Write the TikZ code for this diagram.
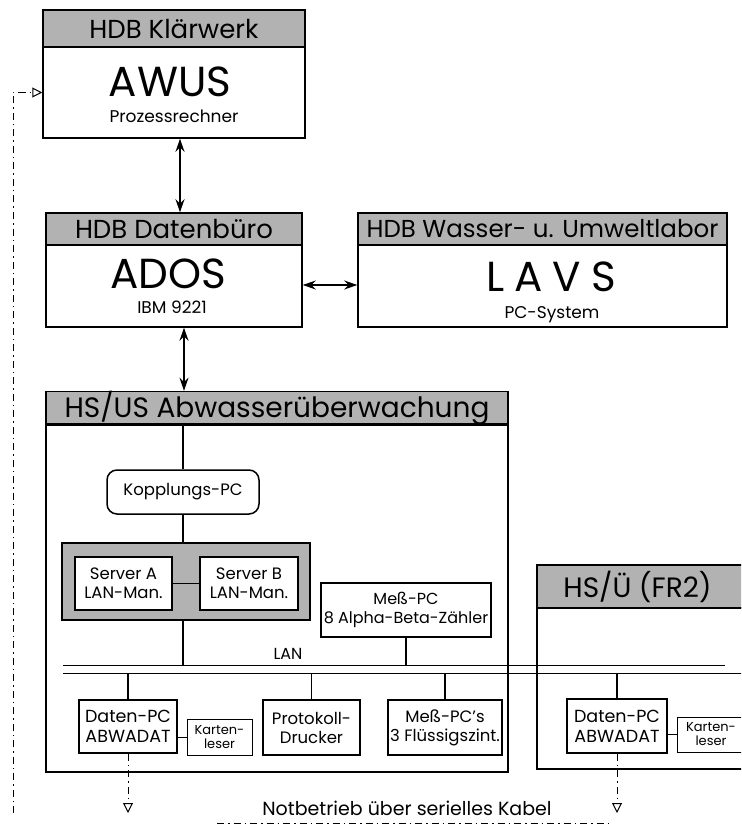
\documentclass[tikz,border=0pt]{standalone}
\usepackage{fontspec}
\setmainfont{Poppins}
\usepackage{tikz}
\usetikzlibrary{arrows.meta}
\usetikzlibrary{positioning}

\begin{document}
\begin{tikzpicture}[x=1pt, y=-1pt,
		kopf/.style = {rectangle, draw, line width=1.5pt, fill=black!30, inner sep=0pt, font=\fontsize{26}{26}\selectfont},
		rumpf/.style = {rectangle, draw, line width=1.5pt, inner sep=0pt},
		gross/.style = {inner sep=0pt, font=\fontsize{42}{42}\selectfont},
		klein/.style = {inner sep=0pt, font=\fontsize{17}{17}\selectfont},
		geraet/.style = {rectangle, draw, line width=1.5pt, fill=white, align=center, inner sep=0pt, font=\fontsize{16.5}{19}\selectfont},
		leser/.style = {rectangle, draw, line width=0.8pt, align=center, inner sep=0pt, font=\fontsize{13}{14}\selectfont},
		pfeil/.style = {{Stealth[length=13pt,width=9pt]}-{Stealth[length=13pt,width=9pt]}, line width=1.2pt},
		netz/.style = {line width=1pt},
		notlinie/.style = {line width=1pt, dash pattern=on 7pt off 4pt on 1.5pt off 4pt},
		spitze/.style = {-{Triangle[open, length=10pt, width=10pt, line width=1pt]}}
		]
		\useasboundingbox (0,0) rectangle (741,826);
		\clip (0,0) rectangle (741,826);
		
		%Nodes
		\node[kopf, minimum width=262, minimum height=37]	(awush)	at	(174, 28.5)		{HDB Klärwerk};
		\node[rumpf, minimum width=262, minimum height=91]	(awusb)	at	(174, 92.5)		{};
		\node[gross]	(awust)	at	(170, 82)		{AWUS};
		\node[klein]	(awuss)	at	(174, 116)		{Prozessrechner};
		
		\node[kopf, minimum width=256, minimum height=32]	(adosh)	at	(174, 229)		{HDB Datenbüro};
		\node[rumpf, minimum width=256, minimum height=82]	(adosb)	at	(174, 286)		{};
		\node[gross]	(adost)	at	(168, 274)		{ADOS};
		\node[klein]	(adoss)	at	(172, 307)		{IBM 9221};
		
		\node[kopf, minimum width=369, minimum height=32, font=\fontsize{24.5}{24.5}\selectfont]	(lavsh)	at	(542.5, 229)	{HDB Wasser- u. Umweltlabor};
		\node[rumpf, minimum width=369, minimum height=82]	(lavsb)	at	(542.5, 286)	{};
		\node[gross]	(lavst)	at	(551, 277)		{L\hspace{10pt}A\hspace{10pt}V\hspace{10pt}S};
		\node[klein]	(lavss)	at	(552, 315)		{PC-System};
		
		\node[kopf, minimum width=462, minimum height=31, font=\fontsize{28}{28}\selectfont]	(hsush)	at	(277, 408.5)	{HS/US Abwasserüberwachung};
		\node[rumpf, minimum width=462, minimum height=348]	(hsusb)	at	(277, 598)		{};
		
		\node[kopf, minimum width=223, minimum height=43, font=\fontsize{28}{28}\selectfont]	(frh)	at	(648.5, 586.5)	{\hspace{-22pt}HS/Ü (FR2)};
		\node[rumpf, minimum width=223, minimum height=161]	(frb)	at	(648.5, 688.5)	{};
		
		\node[geraet, rounded corners=10pt, minimum width=152, minimum height=44]	(kop)	at	(183, 492)	{Kopplungs-PC};
		\node[rumpf, fill=black!30, minimum width=248, minimum height=77]	(srv)	at	(186, 581.5)	{};
		\node[geraet, minimum width=97, minimum height=53]	(srva)	at	(123.5, 583.5)	{Server A\\LAN-Man.};
		\node[geraet, minimum width=98, minimum height=53]	(srvb)	at	(249, 583.5)	{Server B\\LAN-Man.};
		\node[geraet, minimum width=170, minimum height=54, font=\fontsize{16}{19}\selectfont]	(mess)	at	(406, 610)	{Meß-PC\\8 Alpha-Beta-Zähler};
		\node[font=\fontsize{16}{16}\selectfont, inner sep=0pt]	(lan)	at	(288, 654)	{LAN};
		
		\node[geraet, minimum width=98, minimum height=53, font=\fontsize{17.5}{20}\selectfont]	(dpc)	at	(128, 726.5)	{Daten-PC\\ABWADAT};
		\node[leser, minimum width=65, minimum height=36]	(kl)	at	(219.5, 737)	{Karten-\\leser};
		\node[geraet, minimum width=97, minimum height=55]	(druck)	at	(311.5, 727.5)	{Protokoll-\\Drucker};
		\node[geraet, minimum width=114, minimum height=55]	(fz)	at	(445, 727.5)	{Meß-PC's\\3 Flüssigszint.};
		
		\node[geraet, minimum width=100, minimum height=54, font=\fontsize{17.5}{20}\selectfont]	(dpcfr)	at	(617, 726)	{Daten-PC\\ABWADAT};
		\node[leser, minimum width=68, minimum height=35]	(klfr)	at	(711, 734.5)	{Karten-\\leser};
		
		\node[font=\fontsize{19}{19}\selectfont, inner sep=0pt]	(notb)	at	(407, 808)	{Notbetrieb über serielles Kabel};
		
		\coordinate	(lan1a)	at	(63, 665);
		\coordinate	(lan1b)	at	(725, 665);
		\coordinate	(lan2a)	at	(63, 673);
		\coordinate	(lan2b)	at	(745, 673);
		\coordinate	(nl)	at	(13, 813);
		\coordinate	(nka)	at	(217, 823);
		\coordinate	(nkb)	at	(612, 823);
		
		%Lines
		\draw[pfeil]	([xshift=6pt]awusb.south)	--	([xshift=6pt]adosh.north);
		\draw[pfeil]	([xshift=10pt]adosb.south)	--	([xshift=10pt]adosb.south |- hsush.north);
		\draw[pfeil]	(adosb.east |- 0,285)	--	(lavsb.west |- 0,285);
		
		\draw[netz]	(lan1a)	--	(lan1b);
		\draw[netz]	(lan2a)	--	(lan2b);
		\draw[line width=1.2pt]	(hsush.south -| kop.north)	--	(kop.north);
		\draw[line width=1.2pt]	(kop.south)	--	(kop.south |- srv.north);
		\draw[line width=1.2pt]	(srva.east)	--	(srvb.west);
		\draw[line width=1.2pt]	(kop.south |- srv.south)	--	(kop.south |- lan1a);
		\draw[line width=1.2pt]	(mess.south)	--	(mess.south |- lan1a);
		\draw[line width=1.2pt]	(dpc.north |- lan2a)	--	(dpc.north);
		\draw[line width=1.2pt]	(druck.north |- lan2a)	--	(druck.north);
		\draw[line width=1.2pt]	(fz.north |- lan2a)	--	(fz.north);
		\draw[line width=1.2pt]	(dpcfr.north |- lan2a)	--	(dpcfr.north);
		\draw[line width=0.8pt]	(kl.west)	--	(kl.west -| dpc.east);
		\draw[line width=0.8pt]	(klfr.west)	--	(klfr.west -| dpcfr.east);
		
		\draw[notlinie, spitze]	(dpc.south)	--	(dpc.south |- nl);
		\draw[notlinie, spitze]	(dpcfr.south)	--	(dpcfr.south |- nl);
		\draw[notlinie]	(nka)	--	(nkb);
		\draw[notlinie, spitze]	(nl)	|-	(awusb.west);
	\end{tikzpicture}
\end{document}
